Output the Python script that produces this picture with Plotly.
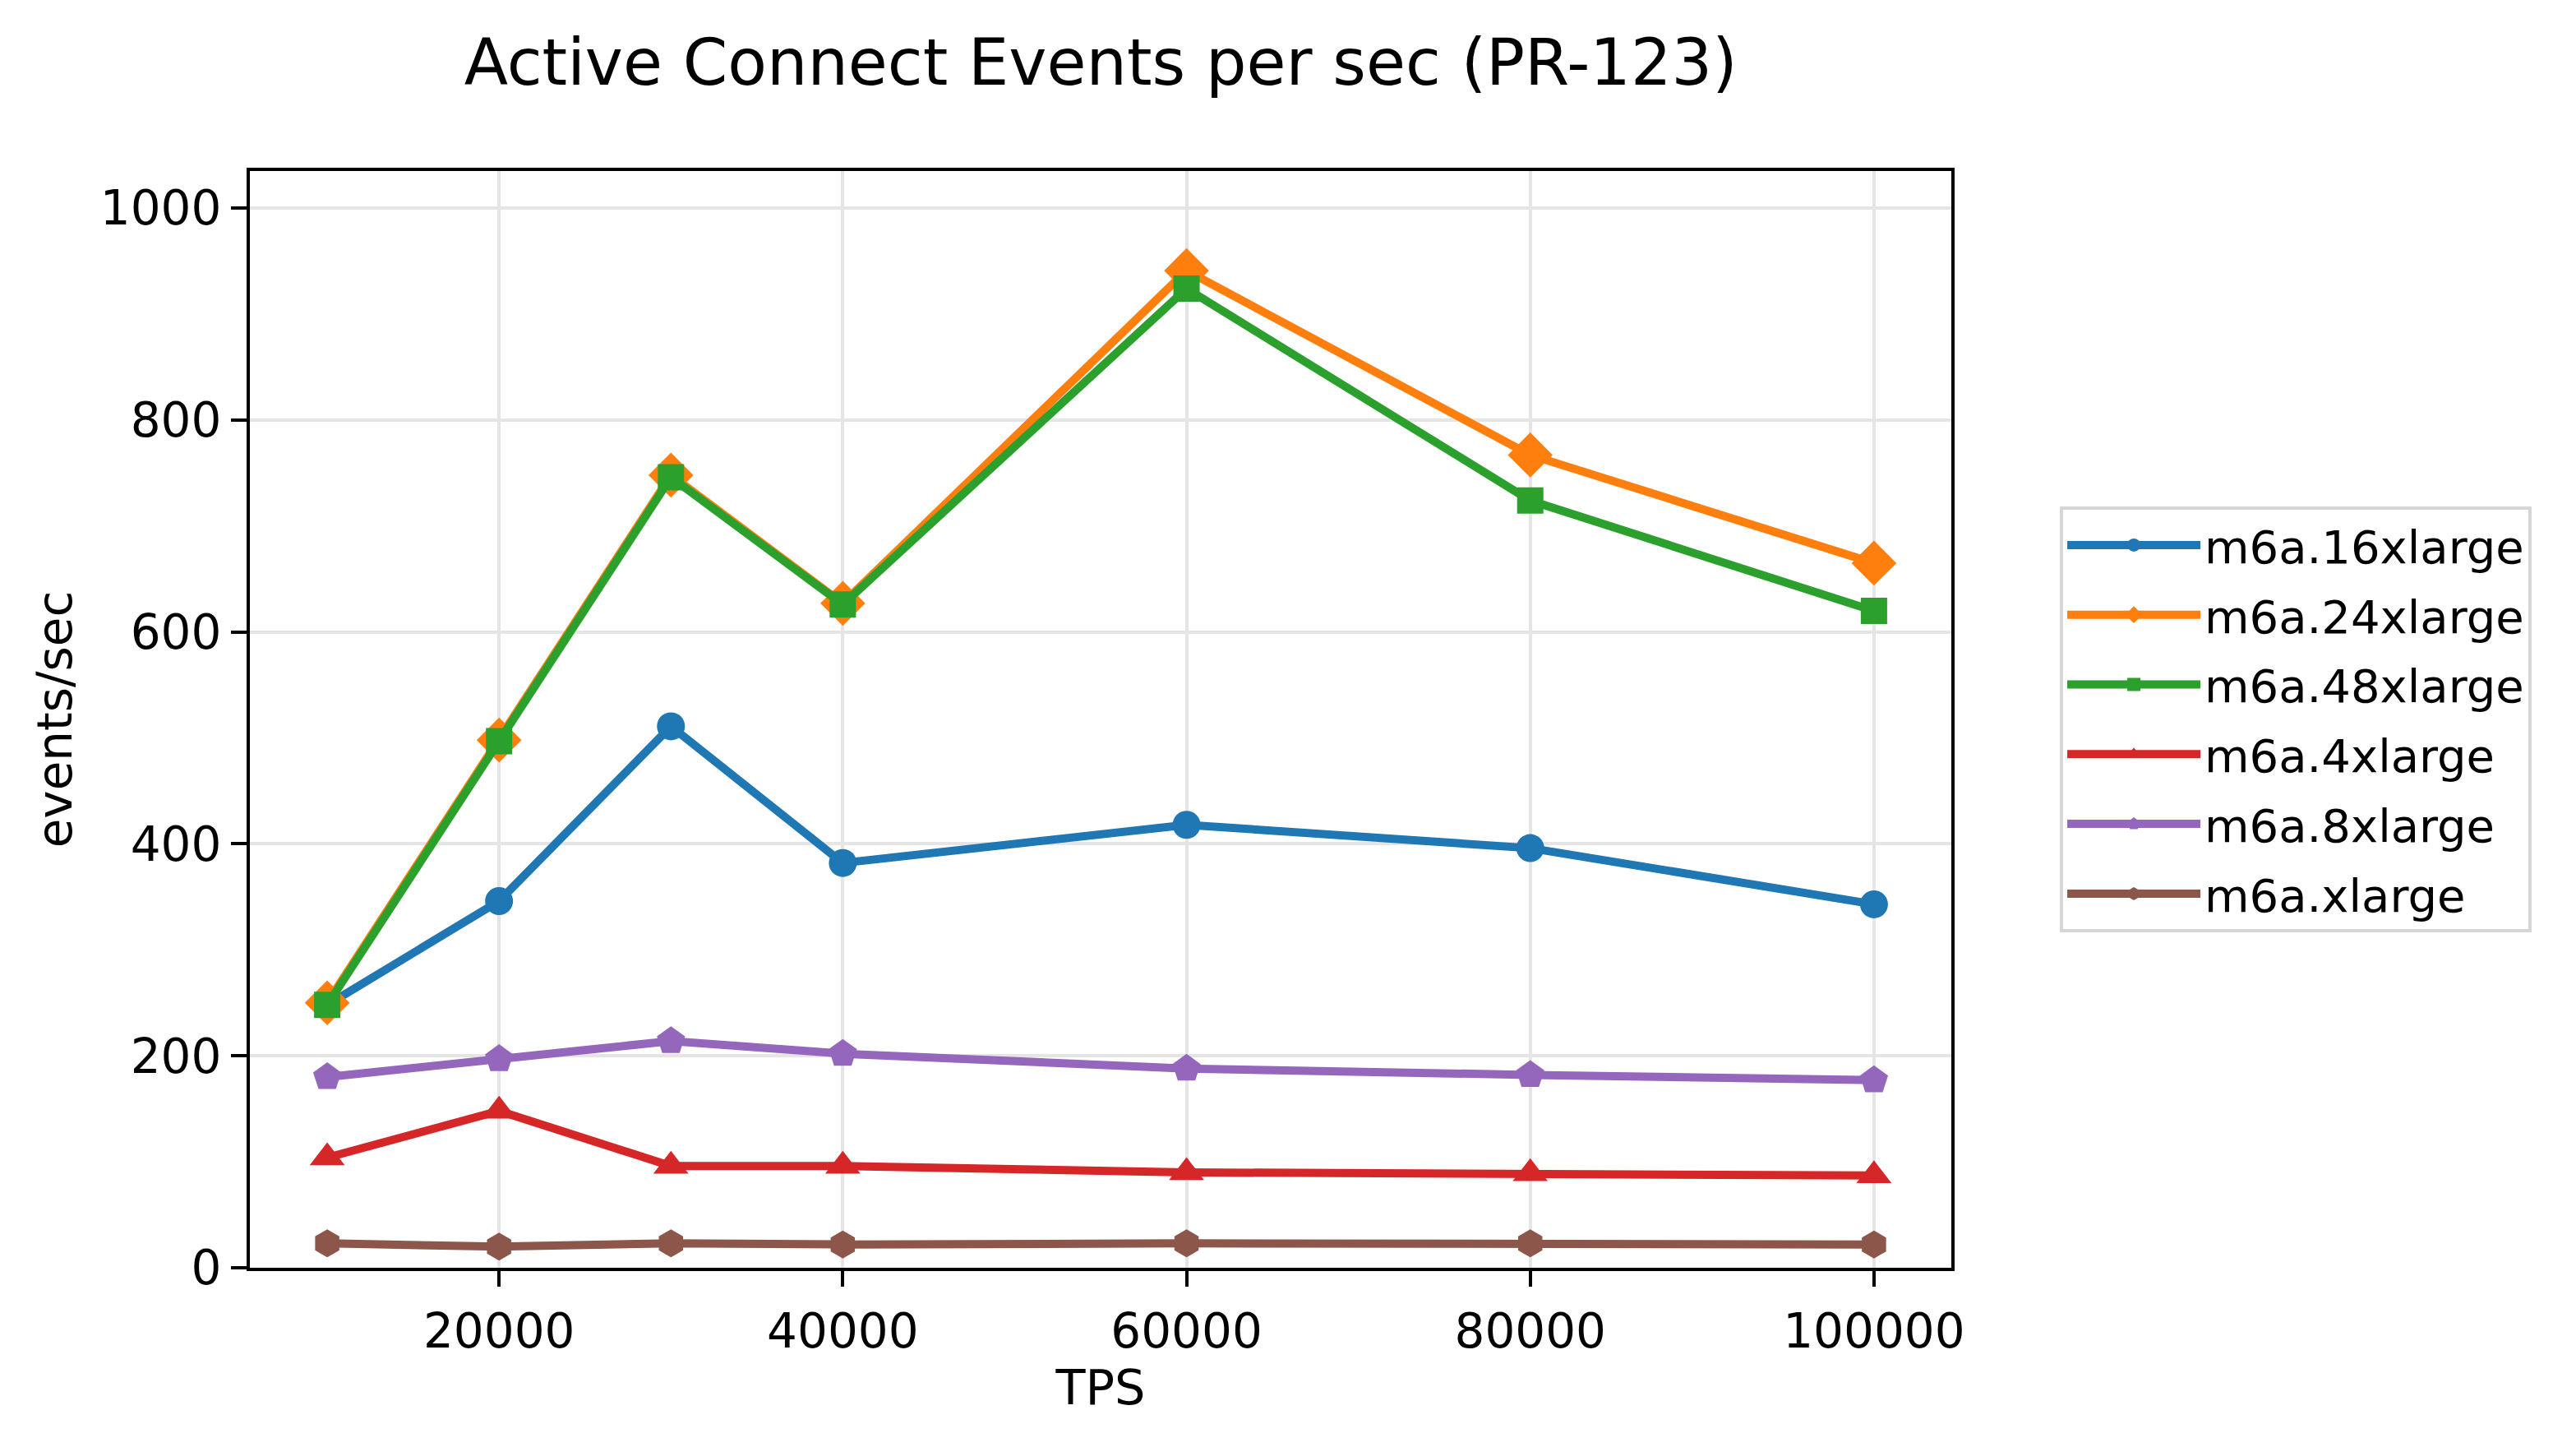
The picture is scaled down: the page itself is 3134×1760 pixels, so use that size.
import plotly.graph_objects as go

tps = [10000, 20000, 30000, 40000, 60000, 80000, 100000]

m6a_16xlarge = [248, 346, 511, 382, 418, 396, 343]
m6a_24xlarge = [250, 498, 748, 627, 941, 767, 665]
m6a_48xlarge = [248, 497, 746, 626, 924, 724, 620]
m6a_4xlarge = [104, 148, 96, 96, 90, 89, 87]
m6a_8xlarge = [180, 197, 214, 202, 188, 182, 177]
m6a_xlarge = [23, 20, 23, 22, 23, 23, 22]

series_names = ["m6a.16xlarge", "m6a.24xlarge", "m6a.48xlarge",
                "m6a.4xlarge", "m6a.8xlarge", "m6a.xlarge"]
series_values = [m6a_16xlarge, m6a_24xlarge, m6a_48xlarge,
                 m6a_4xlarge, m6a_8xlarge, m6a_xlarge]
colors = ["#1f77b4", "#ff7f0e", "#2ca02c", "#d62728", "#9467bd", "#8c564b"]
symbols = ["circle", "diamond", "square", "triangle-up", "pentagon", "hexagon"]
sizes = [34, 42, 32, 37, 36, 34]

x_ticks = [20000, 40000, 60000, 80000, 100000]
y_ticks = [0, 200, 400, 600, 800, 1000]

FONT = "DejaVu Sans"

fig = go.Figure()
for name, vals, c, s, sz in zip(series_names, series_values, colors, symbols, sizes):
    fig.add_trace(go.Scatter(
        x=tps, y=vals, name=name, mode="lines+markers", legendgroup=name,
        line=dict(color=c, width=10),
        marker=dict(symbol=s, size=sz, color=c, line=dict(width=0)),
    ))

axis_common = dict(
    showline=True, linecolor="black", linewidth=4, mirror=True,
    ticks="outside", ticklen=19, tickwidth=4, tickcolor="black",
    showgrid=True, gridcolor="#e5e5e5", gridwidth=4,
    zeroline=False,
    tickfont=dict(family=FONT, size=58, color="black"),
)

fig.update_layout(
    width=3134, height=1760,
    margin=dict(l=304, r=760, t=208, b=218),
    paper_bgcolor="white", plot_bgcolor="white",
    font=dict(family=FONT, size=56, color="black"),
    title=dict(text="Active Connect Events per sec (PR-123)",
               font=dict(family=FONT, size=78, color="black"),
               x=0.4273, xanchor="center", y=1 - 76 / 1760, yanchor="middle"),
    xaxis=dict(range=[5500, 104500], tickvals=x_ticks, tickformat="d",
               title=dict(text="TPS", font=dict(family=FONT, size=59), standoff=16),
               ticklabelstandoff=4,
               **axis_common),
    yaxis=dict(range=[0, 1035], tickvals=y_ticks, tickformat="d",
               title=dict(text="events/sec", font=dict(family=FONT, size=58), standoff=16),
               ticklabelstandoff=0,
               **axis_common),
    legend=dict(x=1.0638, xanchor="left", y=0.5, yanchor="middle",
                bordercolor="#d6d6d6", borderwidth=4, bgcolor="white",
                font=dict(family=FONT, size=56, color="black"),
                itemwidth=162, itemsizing="trace", tracegroupgap=9),
    showlegend=True,
)

fig.write_html("out.html")
